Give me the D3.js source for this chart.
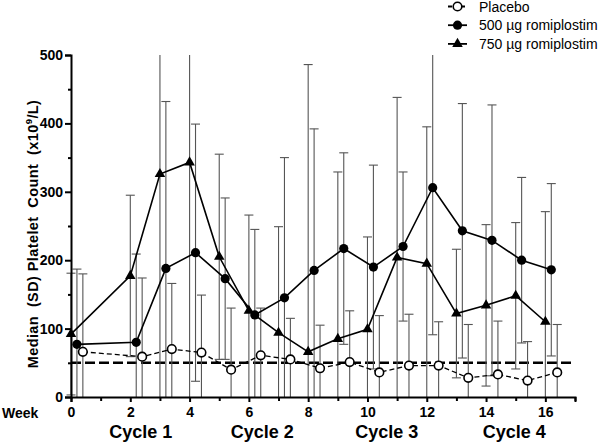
<!DOCTYPE html>
<html><head><meta charset="utf-8">
<script src="https://cdn.jsdelivr.net/npm/d3@7"></script>
<style>body{margin:0;background:#fff}svg{display:block;font-family:"Liberation Sans",Arial,sans-serif}</style>
</head><body><svg id="c" width="600" height="443"></svg>
<script>
const weeks = [0,2,3,4,5,6,7,8,9,10,11,12,13,14,15,16];
const romi750 = [92,177,326,343,205,126,94,66,85,99,204,195,122,134,148,110];
const sd750   = [89,118,340,360,150,140,155,420,244,135,234,200,94,118,107,161];
const romi500 = [77,80,188,211,173,120,145,185,217,190,220,306,243,229,200,186];
const sd500   = [110,129,244,188,118,125,205,207,140,149,109,215,186,198,121,126];
const placebo = [66,59,70,65,40,61,55,42,51,36,46,46,28,33,24,36];
const sdPlacebo = [114,115,96,84,90,69,60,63,75,83,75,64,78,78,57,70];
const threshold = 50;
const cycleLabels = ["Cycle 1","Cycle 2","Cycle 3","Cycle 4"];
const cyclePos = [2.35,6.45,10.65,14.95];
const legendLabels = ["Placebo","500 \u00b5g romiplostim","750 \u00b5g romiplostim"];

const svg = d3.select("#c");
const x = d3.scaleLinear().domain([0,17]).range([71,575]);
const y = d3.scaleLinear().domain([0,500]).range([397,55]);

const series = [
  {vals: placebo, sd: sdPlacebo, off: 0.4, type: "open", dash: "5,3", lw: 1.3},
  {vals: romi500, sd: sd500, off: 0.2, type: "dot", dash: null, lw: 1.6},
  {vals: romi750, sd: sd750, off: 0.0, type: "tri", dash: null, lw: 1.6}
];

// threshold dashed line
svg.append("line").attr("x1", x(0)).attr("x2", x(17)).attr("y1", y(threshold)).attr("y2", y(threshold))
  .attr("stroke","#000").attr("stroke-width",2.6).attr("stroke-dasharray","10,4");

// error bars
const clamp = v => Math.max(0, Math.min(500, v));
series.forEach(s => {
  const g = svg.append("g").attr("stroke","#555").attr("stroke-width",1.1).attr("fill","none");
  s.vals.forEach((v,i) => {
    const cx = x(weeks[i] + s.off);
    const hi = v + s.sd[i], lo = v - s.sd[i];
    g.append("line").attr("x1",cx).attr("x2",cx).attr("y1",y(clamp(hi))).attr("y2",y(clamp(lo)));
    if (hi <= 500) g.append("line").attr("x1",cx-4.5).attr("x2",cx+4.5).attr("y1",y(hi)).attr("y2",y(hi));
    if (lo >= 0) g.append("line").attr("x1",cx-4.5).attr("x2",cx+4.5).attr("y1",y(lo)).attr("y2",y(lo));
  });
});

// lines
series.forEach(s => {
  const line = d3.line().x((d,i) => x(weeks[i] + s.off)).y(d => y(d));
  svg.append("path").datum(s.vals).attr("d", line).attr("fill","none").attr("stroke","#000")
    .attr("stroke-width", s.lw).attr("stroke-dasharray", s.dash);
});

const tri = d3.symbol().type(d3.symbolTriangle).size(48);
function marker(g, type, cx, cy) {
  if (type === "tri") {
    g.append("path").attr("d", tri()).attr("transform",`translate(${cx},${cy})`).attr("fill","#000");
  } else if (type === "dot") {
    g.append("circle").attr("cx",cx).attr("cy",cy).attr("r",4.6).attr("fill","#000");
  } else {
    g.append("circle").attr("cx",cx).attr("cy",cy).attr("r",4.3).attr("fill","#fff").attr("stroke","#000").attr("stroke-width",1.6);
  }
}
series.forEach(s => {
  const g = svg.append("g");
  s.vals.forEach((v,i) => marker(g, s.type, x(weeks[i] + s.off), y(v)));
});

// y axis
svg.append("g").attr("transform",`translate(${x(0)},0)`)
  .call(d3.axisLeft(y).tickValues(d3.range(0,501,100)).tickSize(6).tickPadding(2));
svg.append("g").attr("transform",`translate(${x(0)},0)`)
  .call(d3.axisLeft(y).tickValues(d3.range(50,500,100)).tickSize(3).tickFormat(""))
  .select(".domain").remove();
// x axis
svg.append("g").attr("transform",`translate(0,${y(0)})`)
  .call(d3.axisBottom(x).tickValues(d3.range(0,17,2)).tickSize(5).tickPadding(5));
svg.append("g").attr("transform",`translate(0,${y(0)})`)
  .call(d3.axisBottom(x).tickValues(d3.range(1,18,2)).tickSize(4).tickFormat(""))
  .select(".domain").remove();
svg.selectAll(".domain").attr("stroke-width",2).attr("stroke","#000");
svg.selectAll(".tick line").attr("stroke-width",2).attr("stroke","#000");
svg.selectAll(".tick text").attr("font-size",14).attr("font-weight","bold").attr("font-family","Liberation Sans, Arial, sans-serif").attr("fill","#000");

svg.append("text").attr("x",2).attr("y",418).attr("font-size",14).attr("font-weight","bold").text("Week");

cycleLabels.forEach((t,i) => {
  svg.append("text").attr("x", x(cyclePos[i])).attr("y", 438).attr("text-anchor","middle")
    .attr("font-size",18).attr("font-weight","bold").text(t);
});

// y label
const yl = svg.append("text").attr("transform","translate(38,234) rotate(-90)").attr("text-anchor","middle")
  .attr("font-size",14.5).attr("font-weight","bold").attr("letter-spacing",0.4);
yl.append("tspan").text("Median\u00a0 (SD) Platelet\u00a0 Count\u00a0 (x10");
yl.append("tspan").attr("font-size",9.5).attr("dy",-6).text("9");
yl.append("tspan").attr("dy",6).text("/L)");

// legend
const types = ["open","dot","tri"];
const dashes = ["4,2.5", null, null];
legendLabels.forEach((t,i) => {
  const ly = 6.5 + i*18.7;
  const g = svg.append("g");
  g.append("line").attr("x1",448).attr("x2",467).attr("y1",ly).attr("y2",ly).attr("stroke","#000").attr("stroke-width",1.8).attr("stroke-dasharray",dashes[i]);
  marker(g, types[i], 457.5, ly);
  g.append("text").attr("x",479).attr("y",ly+5).attr("font-size",14).text(t);
});
</script></body></html>
